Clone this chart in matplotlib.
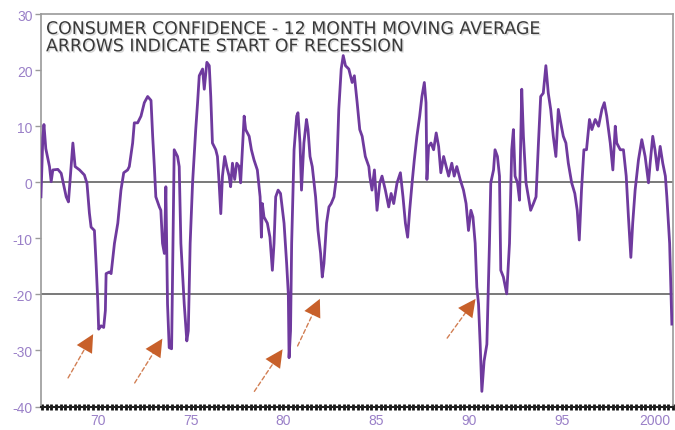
import matplotlib
matplotlib.use("Agg")
import matplotlib.pyplot as plt
import matplotlib.patheffects as pe
from matplotlib.ticker import MultipleLocator, FixedLocator

plt.rcParams["axes.unicode_minus"] = False

# 12-month moving average of consumer confidence
years = [
    1966.94, 1967.04, 1967.10, 1967.20, 1967.40, 1967.49, 1967.58, 1967.85, 1968.03, 1968.30,
    1968.42, 1968.66, 1968.78, 1969.02, 1969.28, 1969.42, 1969.55, 1969.64, 1969.82, 1969.91,
    1970.00, 1970.05, 1970.18, 1970.32, 1970.41, 1970.45, 1970.63, 1970.72, 1970.90, 1971.08,
    1971.25, 1971.40, 1971.61, 1971.70, 1971.88, 1971.97, 1972.15, 1972.33, 1972.51, 1972.69,
    1972.87, 1972.96, 1973.05, 1973.13, 1973.32, 1973.40, 1973.49, 1973.59, 1973.67, 1973.76,
    1973.85, 1973.98, 1974.12, 1974.30, 1974.39, 1974.48, 1974.66, 1974.80, 1974.88, 1974.98,
    1975.11, 1975.28, 1975.38, 1975.47, 1975.65, 1975.74, 1975.88, 1976.01, 1976.09, 1976.18,
    1976.36, 1976.45, 1976.54, 1976.63, 1976.72, 1976.84, 1976.95, 1977.08, 1977.16, 1977.26,
    1977.38, 1977.49, 1977.62, 1977.70, 1977.89, 1977.97, 1978.16, 1978.28, 1978.42, 1978.60,
    1978.75, 1978.82, 1978.87, 1978.96, 1979.14, 1979.28, 1979.41, 1979.50, 1979.59, 1979.72,
    1979.85, 1980.04, 1980.18, 1980.27, 1980.31, 1980.39, 1980.45, 1980.58, 1980.72, 1980.79,
    1980.90, 1980.98, 1981.11, 1981.25, 1981.33, 1981.44, 1981.56, 1981.74, 1981.87, 1982.01,
    1982.10, 1982.19, 1982.33, 1982.46, 1982.58, 1982.73, 1982.87, 1982.99, 1983.12, 1983.23,
    1983.35, 1983.53, 1983.71, 1983.83, 1983.98, 1984.12, 1984.25, 1984.42, 1984.61, 1984.66,
    1984.78, 1984.91, 1985.05, 1985.20, 1985.32, 1985.50, 1985.68, 1985.81, 1985.95, 1986.13,
    1986.31, 1986.45, 1986.58, 1986.70, 1986.81, 1986.94, 1987.06, 1987.20, 1987.35, 1987.47,
    1987.60, 1987.69, 1987.74, 1987.83, 1987.96, 1988.10, 1988.24, 1988.37, 1988.49, 1988.64,
    1988.78, 1988.91, 1989.08, 1989.21, 1989.35, 1989.53, 1989.71, 1989.85, 1989.98, 1990.11,
    1990.22, 1990.34, 1990.43, 1990.52, 1990.61, 1990.70, 1990.82, 1990.97, 1991.11, 1991.18,
    1991.33, 1991.41, 1991.54, 1991.65, 1991.72, 1991.86, 1992.04, 1992.19, 1992.31, 1992.40,
    1992.49, 1992.62, 1992.73, 1992.85, 1992.94, 1993.08, 1993.21, 1993.33, 1993.48, 1993.62,
    1993.75, 1993.87, 1994.01, 1994.15, 1994.28, 1994.41, 1994.55, 1994.69, 1994.82, 1994.95,
    1995.09, 1995.23, 1995.36, 1995.54, 1995.71, 1995.84, 1995.95, 1996.07, 1996.20, 1996.34,
    1996.50, 1996.63, 1996.81, 1996.99, 1997.17, 1997.30, 1997.43, 1997.62, 1997.76, 1997.89,
    1997.97, 1998.16, 1998.33, 1998.48, 1998.60, 1998.73, 1998.83, 1998.96, 1999.14, 1999.32,
    1999.50, 1999.68, 1999.77, 1999.91, 2000.03, 2000.16, 2000.31, 2000.45, 2000.59, 2000.67,
    2000.82, 2000.94,
]
confidence = [
    -2.6, 8.0, 10.3, 6.0, 2.8, 0.1, 2.2, 2.3, 1.6, -2.6,
    -3.5, 7.0, 2.8, 2.2, 1.3, -0.2, -5.5, -8.0, -8.6, -14.5,
    -21.1, -26.2, -25.6, -25.9, -22.9, -16.3, -16.0, -16.3, -10.9, -7.3,
    -1.4, 1.7, 2.2, 2.8, 7.0, 10.6, 10.6, 11.8, 14.2, 15.3,
    14.6, 8.2, 2.8, -2.6, -4.4, -5.0, -10.9, -12.7, -0.8, -21.7,
    -29.5, -29.7, 5.8, 4.6, 2.8, -10.9, -21.7, -28.3, -26.5, -10.9,
    -0.1, 9.4, 14.2, 19.0, 20.2, 16.6, 21.4, 20.8, 15.3, 7.0,
    5.8, 4.6, -0.1, -5.6, 1.1, 4.6, 2.8, 1.1, -0.8, 3.4,
    0.5, 3.4, 2.8, -0.1, 11.8, 9.4, 8.2, 5.8, 4.0, 2.2,
    -2.6, -9.8, -3.8, -6.2, -7.3, -9.8, -15.7, -10.9, -2.6, -1.4,
    -2.0, -7.3, -14.5, -19.9, -31.3, -26.5, -10.9, 5.8, 11.8, 12.4,
    7.0, -1.4, 7.0, 11.2, 9.4, 4.6, 2.8, -2.6, -8.6, -12.7,
    -16.9, -14.5, -7.3, -4.4, -3.8, -2.6, 1.1, 13.0, 20.2, 22.6,
    20.8, 20.2, 17.8, 19.0, 14.2, 9.4, 8.2, 4.6, 2.8, 1.1,
    -1.4, 2.2, -5.0, -0.1, 1.1, -1.4, -4.4, -2.0, -3.8, -0.1,
    1.7, -2.6, -7.3, -9.8, -5.0, -0.1, 4.0, 8.2, 11.8, 15.3,
    17.8, 14.2, 0.5, 6.4, 7.0, 5.8, 8.8, 6.4, 1.7, 4.6,
    2.8, 1.1, 3.4, 1.1, 2.8, 0.5, -1.4, -3.8, -8.6, -5.0,
    -6.2, -10.9, -18.7, -21.7, -28.9, -37.3, -31.9, -28.9, -10.9, -0.1,
    2.2, 5.8, 4.6, 1.1, -15.7, -16.9, -19.9, -10.9, 5.8, 9.4,
    1.1, -0.1, -3.2, 16.6, 8.2, -0.1, -2.6, -5.0, -3.8, -2.6,
    7.0, 15.3, 15.9, 20.8, 15.9, 13.0, 8.2, 4.6, 13.0, 10.6,
    8.2, 7.0, 3.4, -0.1, -2.0, -5.0, -10.3, -1.4, 5.8, 5.8,
    11.2, 9.4, 11.2, 10.0, 13.0, 14.2, 11.8, 7.0, 2.2, 10.0,
    7.0, 5.8, 5.8, 1.1, -6.2, -13.4, -7.3, -1.4, 4.0, 7.6,
    4.6, -0.1, 3.4, 8.2, 5.8, 2.2, 6.4, 3.4, 1.1, -2.6,
    -10.9, -25.3,
]

# recession arrows: tail and head positions (year, value)
arrow_tail_x = [1968.40, 1971.99, 1978.44, 1980.77, 1988.83]
arrow_tail_y = [-34.9, -35.8, -37.3, -29.2, -27.8]
arrow_head_x = [1969.75, 1973.48, 1979.96, 1981.97, 1990.36]
arrow_head_y = [-27.1, -27.9, -29.8, -20.8, -20.8]

ref_levels = [0, -20]
year_ticks = [1970, 1975, 1980, 1985, 1990, 1995, 2000]
year_labels = ["70", "75", "80", "85", "90", "95", "2000"]

line_color = "#6f3a9e"
label_color = "#9a80c8"
arrow_color = "#c8602a"

fig = plt.figure(figsize=(6.75, 4.31), dpi=100)
ax = fig.add_axes([0.0607, 0.0545, 0.9363, 0.9105])

for lvl in ref_levels:
    ax.axhline(lvl, color="#555555", linewidth=1.1, zorder=1)

ax.plot(years, confidence, color=line_color, linewidth=2.0, zorder=3)

for tx, ty, hx, hy in zip(arrow_tail_x, arrow_tail_y, arrow_head_x, arrow_head_y):
    # dashed shaft
    ax.annotate(
        "", xy=(hx, hy), xytext=(tx, ty),
        arrowprops=dict(arrowstyle="-", color=arrow_color, linewidth=1.0,
                        linestyle=(0, (3, 2)), alpha=0.8,
                        shrinkA=0, shrinkB=6),
        zorder=4,
    )
    # solid head
    ax.annotate(
        "", xy=(hx, hy), xytext=(tx, ty),
        arrowprops=dict(arrowstyle="-|>,head_length=0.9,head_width=0.45",
                        color=arrow_color, linewidth=0.01,
                        mutation_scale=14, shrinkA=0, shrinkB=0),
        zorder=4,
    )

ax.set_xlim(1966.94, 2001.0)
ax.set_ylim(-40, 30)
ax.yaxis.set_major_locator(MultipleLocator(10))
ax.xaxis.set_major_locator(FixedLocator(year_ticks))
ax.set_xticklabels(year_labels)
ax.xaxis.set_minor_locator(MultipleLocator(0.25))

for side in ["left", "top", "right"]:
    ax.spines[side].set_color("#9a9a9a")
    ax.spines[side].set_linewidth(1.2)
ax.spines["bottom"].set_color("#222222")
ax.spines["bottom"].set_linewidth(1.5)

ax.tick_params(axis="y", colors="#9a9a9a", labelcolor=label_color, length=4,
               width=1, labelsize=10, pad=2)
ax.tick_params(axis="x", which="major", colors="#111111", labelcolor=label_color,
               length=4, width=2, direction="inout", labelsize=10, pad=3)
ax.tick_params(axis="x", which="minor", colors="#111111", length=4, width=2,
               direction="inout")
for lab in ax.get_xticklabels() + ax.get_yticklabels():
    lab.set_family("Liberation Sans")

ax.text(0.008, 0.985, "CONSUMER CONFIDENCE - 12 MONTH MOVING AVERAGE\n"
        "ARROWS INDICATE START OF RECESSION",
        transform=ax.transAxes, ha="left", va="top", fontsize=12.5,
        family="DejaVu Sans", color="#3a3a3a", linespacing=0.95,
        path_effects=[pe.withSimplePatchShadow(offset=(1, -1), shadow_rgbFace="#bbbbbb",
                                               alpha=0.6)])

fig.savefig("out.png", dpi=100)
